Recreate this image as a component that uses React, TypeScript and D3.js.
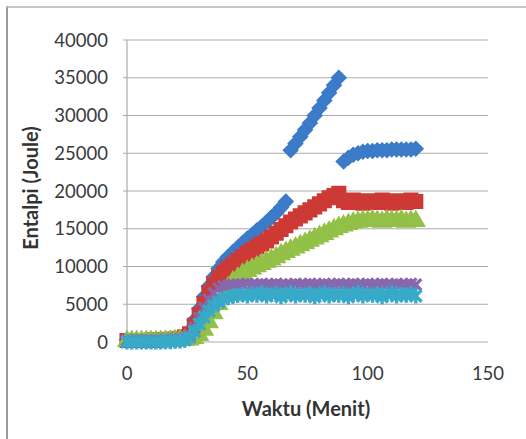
import { useEffect, useRef } from 'react';
import * as d3 from 'd3';

// minutes (shared by all series)
const waktu = [
  0, 2, 4, 6, 8, 10, 12, 14, 16, 18, 20, 22, 24,
  26, 28, 30, 32, 34, 36, 38, 40, 42, 44, 46, 48, 50, 52, 54, 56, 58, 60, 62, 64, 66,
  68, 70, 72, 74, 76, 78, 80, 82, 84, 86, 88,
  90, 92, 94, 96, 98, 100, 102, 104, 106, 108, 110, 112, 114, 116, 118, 120
];

const seriesBlue = [
  300, 300, 300, 300, 300, 350, 350, 400, 400, 450, 500, 600, 800,
  1500, 2900, 4400, 6000, 7400, 8600, 9700, 10600, 11300, 11900, 12500, 13100, 13700, 14200, 14800, 15300, 15900, 16500, 17100, 17800, 18600,
  25400, 26300, 27200, 28100, 29000, 30000, 31000, 32000, 33000, 34000, 35000,
  23900, 24400, 24800, 25000, 25200, 25300, 25300, 25400, 25400, 25400, 25500, 25500, 25500, 25500, 25500, 25600
];

const seriesRed = [
  200, 200, 200, 200, 200, 250, 250, 300, 300, 350, 400, 500, 700,
  1100, 2200, 3600, 5100, 6500, 7600, 8500, 9200, 9800, 10300, 10800, 11300, 11800, 12200, 12600, 13000, 13400, 13900, 14400, 14900, 15400,
  15900, 16300, 16700, 17100, 17500, 17900, 18300, 18700, 19100, 19400, 19700,
  18700, 18500, 18800, 18600, 18400, 18700, 18600, 18500, 18800, 18600, 18400, 18700, 18600, 18500, 18800, 18600
];

const seriesGreen = [
  100, 100, 100, 100, 100, 100, 100, 100, 150, 150, 200, 250, 250,
  300, 500, 900, 1600, 2600, 3800, 5000, 6200, 7200, 8000, 8500, 9000, 9400, 9700, 10000, 10300, 10600, 10900, 11200, 11600, 11900,
  12200, 12500, 12800, 13100, 13400, 13700, 14000, 14300, 14600, 14900, 15200,
  15400, 15600, 15800, 15900, 16000, 16000, 16100, 16000, 15900, 16100, 16000, 16000, 16100, 15900, 16000, 16000
];

const seriesPurple = [
  200, 200, 200, 200, 200, 200, 250, 250, 300, 300, 350, 400, 500,
  900, 1900, 3200, 4500, 5600, 6500, 7100, 7400, 7500, 7600, 7600, 7600, 7700, 7600, 7600, 7700, 7600, 7600, 7700, 7600, 7600,
  7600, 7700, 7600, 7600, 7700, 7600, 7600, 7700, 7600, 7600, 7700,
  7600, 7600, 7700, 7600, 7600, 7700, 7600, 7600, 7700, 7600, 7600, 7700, 7600, 7600, 7700, 7600
];

const seriesCyan = [
  0, 0, 0, 0, 0, 0, 0, 0, 50, 50, 100, 150, 250,
  600, 1400, 2400, 3300, 4100, 4800, 5300, 5700, 5900, 6100, 6200, 6300, 6100, 6400, 6200, 6500, 6100, 6300, 6400, 6000, 6300,
  6500, 6100, 6300, 6200, 6400, 6000, 6300, 6500, 6100, 6300, 6200,
  6400, 6000, 6300, 6500, 6100, 6300, 6200, 6400, 6000, 6300, 6500, 6100, 6300, 6200, 6400, 6100
];

const yTicks = [0, 5000, 10000, 15000, 20000, 25000, 30000, 35000, 40000];
const xTicks = [0, 50, 100, 150];

// excel-ish marker shapes
const diamond = {
  draw(ctx: any, size: number) {
    const r = Math.sqrt(size) / 2;
    ctx.moveTo(0, -r); ctx.lineTo(r, 0); ctx.lineTo(0, r); ctx.lineTo(-r, 0); ctx.closePath();
  }
};
const cross = {
  draw(ctx: any, size: number) {
    const r = Math.sqrt(size) / 2;
    ctx.moveTo(-r, -r); ctx.lineTo(r, r);
    ctx.moveTo(r, -r); ctx.lineTo(-r, r);
  }
};
const star = {
  draw(ctx: any, size: number) {
    const r = Math.sqrt(size) / 2;
    ctx.moveTo(-r, -r); ctx.lineTo(r, r);
    ctx.moveTo(r, -r); ctx.lineTo(-r, r);
    ctx.moveTo(0, -r * 1.3); ctx.lineTo(0, r * 1.3);
  }
};

export default function App() {
  const svgRef = useRef<SVGSVGElement>(null);

  useEffect(() => {
    if (!svgRef.current) return;
    const svg = d3.select(svgRef.current);
    svg.selectAll('*').remove();

    const font = 'Lato, "Open Sans", sans-serif';
    const x = d3.scaleLinear().domain([0, 150]).range([127, 488]);
    const y = d3.scaleLinear().domain([0, 40000]).range([342, 40]);

    svg.append('rect').attr('width', 526).attr('height', 439).attr('fill', '#fff');

    // outer frame (left + top)
    svg.append('line').attr('x1', 7).attr('x2', 7).attr('y1', 6).attr('y2', 439)
      .attr('stroke', '#9a9a9a').attr('stroke-width', 2);
    svg.append('line').attr('x1', 6).attr('x2', 526).attr('y1', 7).attr('y2', 7)
      .attr('stroke', '#b5b5b5').attr('stroke-width', 1.5);

    // gridlines
    svg.append('g').selectAll('line').data(yTicks).join('line')
      .attr('x1', x(0) - 4).attr('x2', x(150))
      .attr('y1', d => y(d)).attr('y2', d => y(d))
      .attr('stroke', '#ababab').attr('stroke-width', 1.2);

    // y axis line
    svg.append('line').attr('x1', x(0)).attr('x2', x(0)).attr('y1', y(40000)).attr('y2', y(0))
      .attr('stroke', '#ababab').attr('stroke-width', 1.2);

    // tick labels
    svg.append('g').selectAll('text').data(yTicks).join('text')
      .attr('x', 108).attr('y', d => y(d)).attr('dy', '0.36em')
      .attr('text-anchor', 'end')
      .style('font-family', font).style('font-size', '18.5px').style('fill', '#3a3a3a')
      .text(d => String(d));

    svg.append('g').selectAll('text').data(xTicks).join('text')
      .attr('x', d => x(d)).attr('y', 373).attr('dy', '0.36em')
      .attr('text-anchor', 'middle')
      .style('font-family', font).style('font-size', '18.5px').style('fill', '#3a3a3a')
      .text(d => String(d));

    // series
    const series = [
      { values: seriesBlue, color: '#3b7bc8', type: diamond, size: 210, fill: true },
      { values: seriesRed, color: '#cd3a35', type: d3.symbolSquare, size: 185, fill: true },
      { values: seriesGreen, color: '#93c047', type: d3.symbolTriangle, size: 135, fill: true },
      { values: seriesPurple, color: '#8767ad', type: cross, size: 120, fill: false },
      { values: seriesCyan, color: '#37a9c9', type: star, size: 135, fill: false }
    ];

    series.forEach(s => {
      const sym = d3.symbol().type(s.type as any).size(s.size);
      svg.append('g').selectAll('path').data(waktu).join('path')
        .attr('transform', (t, i) => `translate(${x(t)},${y(s.values[i])})`)
        .attr('d', sym as any)
        .attr('fill', s.fill ? s.color : 'none')
        .attr('stroke', s.color)
        .attr('stroke-width', s.fill ? 1.5 : 3.4);
    });

    // axis titles
    svg.append('text')
      .attr('transform', 'translate(38,188) rotate(-90)')
      .attr('text-anchor', 'middle')
      .style('font-family', font).style('font-size', '20px').style('font-weight', 'bold').style('fill', '#333')
      .text('Entalpi (Joule)');

    svg.append('text')
      .attr('x', 306).attr('y', 409).attr('dy', '0.36em')
      .attr('text-anchor', 'middle')
      .style('font-family', font).style('font-size', '20px').style('font-weight', 'bold').style('fill', '#333')
      .text('Waktu (Menit)');
  }, []);

  return (
    <svg ref={svgRef} width={526} height={439}
      style={{ position: 'absolute', left: 0, top: 0, display: 'block' }} />
  );
}
